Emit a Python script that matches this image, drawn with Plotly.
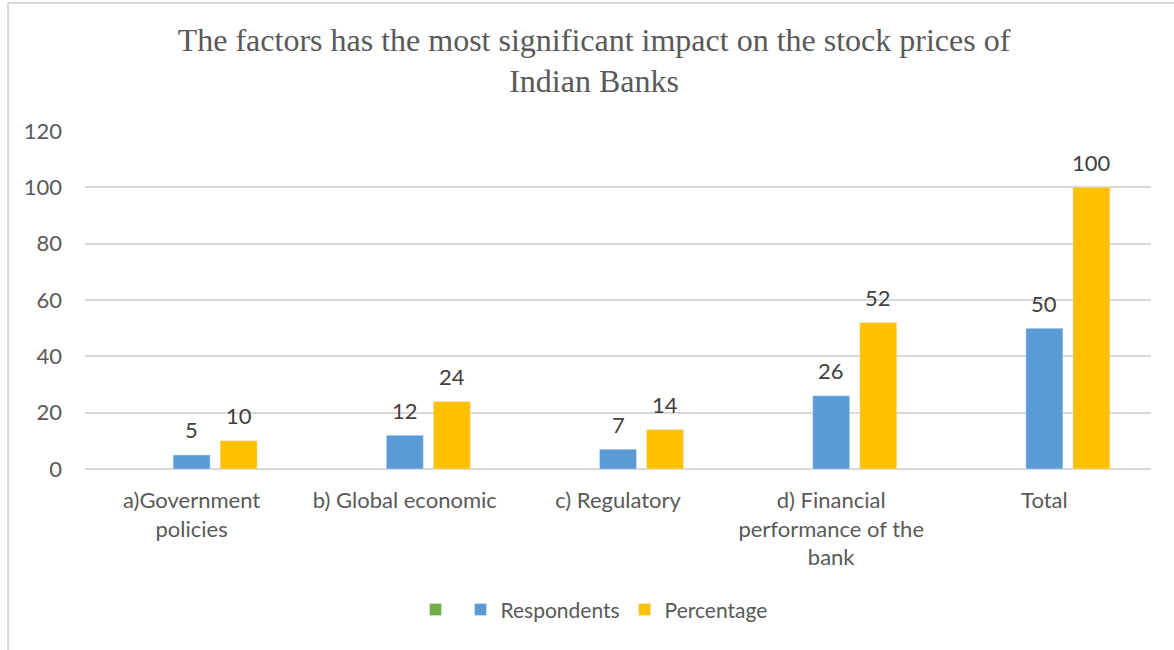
import plotly.graph_objects as go

categories = [
    "a)Government<br>policies",
    "b) Global economic",
    "c) Regulatory",
    "d) Financial<br>performance of the<br>bank",
    "Total",
]
blank_series = [None, None, None, None, None]
respondents = [5, 12, 7, 26, 50]
percentage = [10, 24, 14, 52, 100]

title_text = "The factors has the most significant impact on the stock prices of<br>Indian Banks"

FONT = "Lato"
GRID = "#d9d9d9"
TXT = "#595959"
LABEL = "#404040"

fig = go.Figure()
fig.add_trace(go.Bar(x=categories, y=blank_series, name="", marker_color="#70ad47"))
fig.add_trace(go.Bar(x=categories, y=respondents, name="Respondents", marker_color="#5b9bd5"))
fig.add_trace(go.Bar(x=categories, y=percentage, name="Percentage", marker_color="#ffc000"))

# value labels above each bar; the blue bar sits at the group centre,
# the orange one a slot (47 px) to its right
for cat, r, p in zip(categories, respondents, percentage):
    for val, dx in ((r, 0), (p, 47)):
        fig.add_annotation(x=cat, y=val, text=str(val), showarrow=False,
                           xshift=dx, yshift=25, yanchor="middle",
                           font=dict(family=FONT, size=22, color=LABEL))

# outer chart frame (left and top edges)
fig.add_shape(type="line", xref="paper", yref="paper",
              x0=-0.0722, x1=-0.0722, y0=-0.6, y1=1.379,
              line=dict(color=GRID, width=2))
fig.add_shape(type="line", xref="paper", yref="paper",
              x0=-0.0722, x1=1.05, y0=1.379, y1=1.379,
              line=dict(color=GRID, width=2))

fig.update_layout(
    width=1174, height=650,
    margin=dict(l=85, r=23, t=131, b=181),
    paper_bgcolor="white", plot_bgcolor="white",
    barmode="group", bargap=0.338, bargroupgap=0.213,
    title=dict(text=title_text, x=0.506, xanchor="center", y=0.922, yanchor="middle",
               font=dict(family="Liberation Serif", size=32, color=TXT)),
    font=dict(family=FONT, size=22, color=TXT),
    showlegend=True,
    legend=dict(orientation="h", x=0.4775, xanchor="center", y=-0.417, yanchor="middle",
                font=dict(family=FONT, size=21, color=TXT), traceorder="normal"),
    xaxis=dict(showgrid=False, showline=False, ticks="", ticklabelstandoff=16,
               tickfont=dict(family=FONT, size=22, color=TXT)),
    yaxis=dict(range=[0, 120], dtick=20, showgrid=True, gridcolor=GRID, gridwidth=1.5,
               zeroline=True, zerolinecolor=GRID, zerolinewidth=1.5,
               showline=False, ticks="", ticklabelstandoff=22,
               tickfont=dict(family=FONT, size=22, color=TXT)),
)

fig.write_html("out.html")
